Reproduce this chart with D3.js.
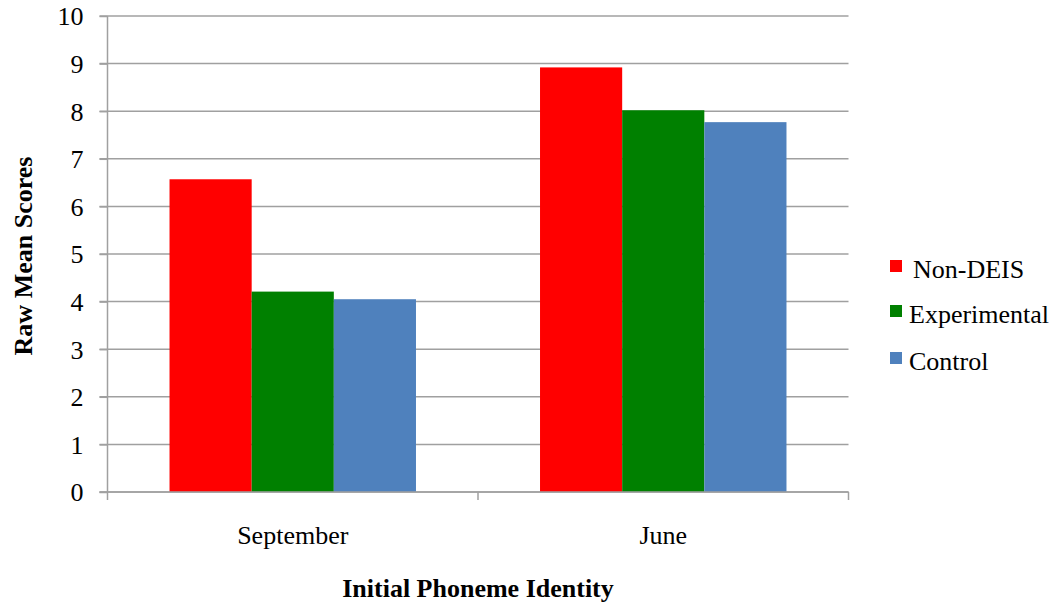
<!DOCTYPE html>
<html><head><meta charset="utf-8">
<script src="https://cdn.jsdelivr.net/npm/d3@7"></script>
<style>body{margin:0;background:#fff}svg{display:block}text{font-family:"Liberation Serif","Times New Roman",serif;fill:#000}</style>
</head><body><svg id="c" width="1060" height="604"></svg>
<script>
const categories = ["September", "June"];
const seriesNames = ["Non-DEIS", "Experimental", "Control"];
const seriesColors = ["#ff0000", "#008000", "#4f81bd"];
const nonDeis = [6.57, 8.92];
const experimental = [4.21, 8.02];
const control = [4.05, 7.77];
const yTicks = [0,1,2,3,4,5,6,7,8,9,10];
const seriesValues = [nonDeis, experimental, control];

const svg = d3.select("#c");
const L = 107.5, R = 848.5, T = 16, B = 492;
const FS = 26;
const x = d3.scaleBand().domain(categories).range([L, R]).paddingInner(0).paddingOuter(0);
const xs = d3.scaleBand().domain(seriesNames).range([0, x.bandwidth()]).paddingInner(0).paddingOuter(0.755);
const y = d3.scaleLinear().domain([0, 10]).range([B, T]);

// gridlines
svg.append("g").selectAll("line").data(yTicks).join("line")
  .attr("x1", L - 8).attr("x2", R).attr("y1", d => y(d)).attr("y2", d => y(d))
  .attr("stroke", "#a0a0a0").attr("stroke-width", 1.5);

// bars
categories.forEach((c, ci) => {
  svg.append("g").selectAll("rect").data(seriesNames).join("rect")
    .attr("x", s => x(c) + xs(s)).attr("width", xs.bandwidth())
    .attr("y", (s, si) => y(seriesValues[si][ci]))
    .attr("height", (s, si) => B - y(seriesValues[si][ci]))
    .attr("fill", (s, si) => seriesColors[si]);
});

// y axis
const ya = svg.append("g").attr("transform", `translate(${L},0)`)
  .call(d3.axisLeft(y).tickValues(yTicks).tickSize(8).tickPadding(16).tickFormat(d3.format("d")));
ya.select(".domain").attr("stroke", "#a0a0a0").attr("stroke-width", 1.5).attr("d", `M0,${T}V${B}`);
ya.selectAll(".tick line").attr("stroke", "#a0a0a0").attr("stroke-width", 1.5);
ya.selectAll("text").attr("font-size", FS).attr("font-family", "Liberation Serif").attr("dy", "0.34em");

// x axis
const xa = svg.append("g").attr("transform", `translate(0,${B})`);
xa.append("line").attr("x1", L - 8).attr("x2", R).attr("stroke", "#a0a0a0").attr("stroke-width", 1.5);
const bounds = [L, ...categories.map(c => x(c) + x.bandwidth())];
xa.selectAll("line.t").data(bounds).join("line").attr("class", "t")
  .attr("x1", d => d).attr("x2", d => d).attr("y1", 0).attr("y2", 8)
  .attr("stroke", "#a0a0a0").attr("stroke-width", 1.5);
xa.selectAll("text").data(categories).join("text")
  .attr("x", d => x(d) + x.bandwidth() / 2).attr("y", 52)
  .attr("text-anchor", "middle").attr("font-size", FS).text(d => d);

// axis titles
svg.append("text").attr("x", 478).attr("y", 597).attr("text-anchor", "middle")
  .attr("font-size", FS).attr("font-weight", "bold").text("Initial Phoneme Identity");
svg.append("text").attr("transform", "translate(32,256) rotate(-90)").attr("text-anchor", "middle")
  .attr("font-size", FS).attr("font-weight", "bold").text("Raw Mean Scores");

// legend
const lg = svg.append("g");
const sqY = [260, 305, 352];
const txY = [278, 323, 370];
const legTx = [913, 909, 909];
seriesNames.forEach((s, i) => {
  lg.append("rect").attr("x", 890).attr("y", sqY[i]).attr("width", 12).attr("height", 12).attr("fill", seriesColors[i]);
  lg.append("text").attr("x", legTx[i]).attr("y", txY[i]).attr("font-size", FS).text(s);
});
</script></body></html>
